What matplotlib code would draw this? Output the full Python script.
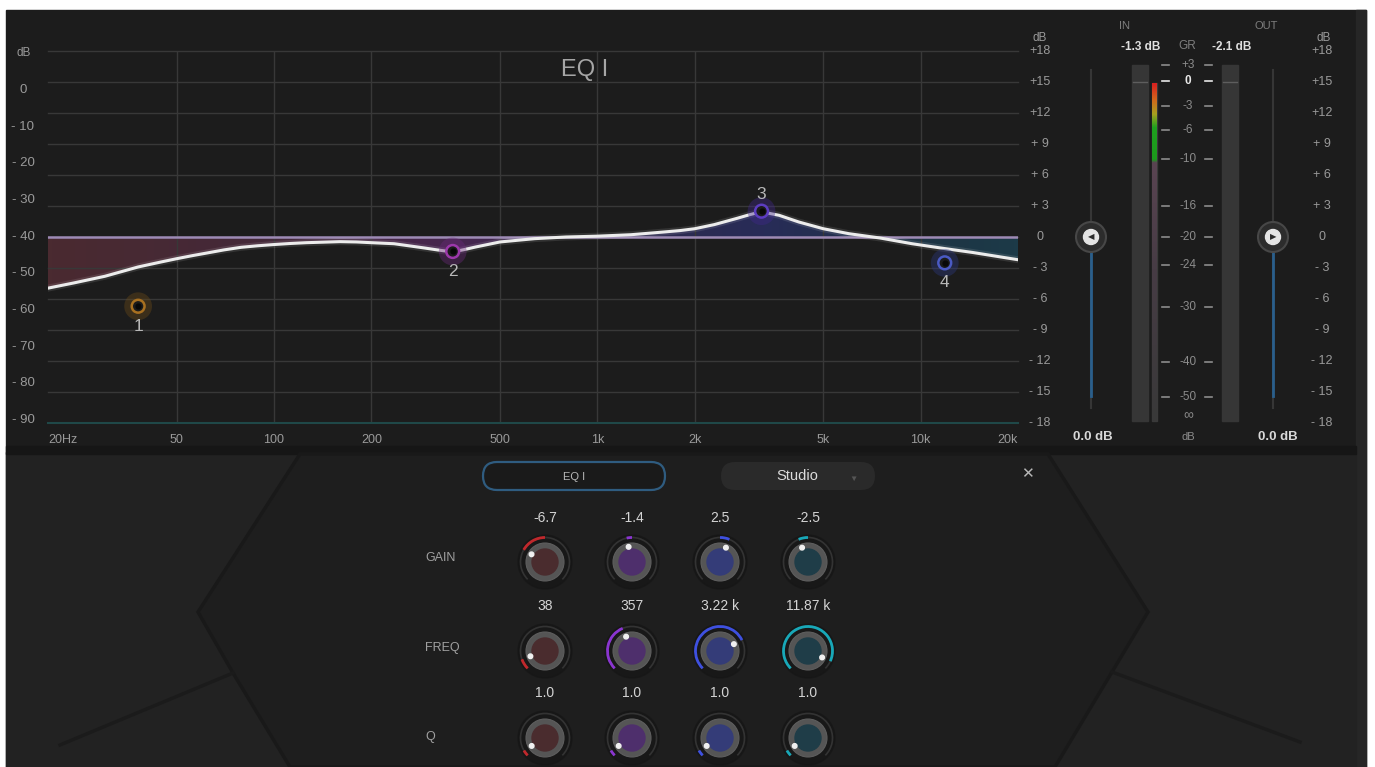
import numpy as np
import matplotlib.pyplot as plt
import matplotlib.transforms as mtransforms
from matplotlib.patches import Circle, Arc, FancyBboxPatch, Polygon, Rectangle
from matplotlib.colors import LinearSegmentedColormap

plt.rcParams['font.family'] = ['Liberation Sans', 'DejaVu Sans']

# EQ response (Hz, dB)
curve_freq = [20, 24, 30, 38, 45, 50, 56, 62, 70, 79, 89, 100, 112, 126, 142, 160, 180,
              200, 235, 290, 320, 357, 390, 420, 500, 640, 800, 1000, 1270, 1600, 1800,
              2000, 2300, 2700, 2950, 3220, 3450, 3650, 4200, 5000, 6000, 7500, 9400,
              11870, 14500, 20000]
curve_db = [-4.95, -4.45, -3.8, -2.9, -2.4, -2.1, -1.8, -1.55, -1.25, -1.0, -0.85, -0.73,
            -0.63, -0.55, -0.5, -0.45, -0.48, -0.55, -0.65, -1.05, -1.25, -1.45, -1.2,
            -0.97, -0.48, -0.16, 0.0, 0.08, 0.22, 0.48, 0.62, 0.8, 1.2, 1.8, 2.15, 2.45,
            2.25, 2.1, 1.45, 0.8, 0.32, -0.1, -0.65, -1.12, -1.5, -2.2]

# bands
band_freq = [38, 357, 3220, 11870]
band_gain = [-6.7, -1.4, 2.5, -2.5]
band_q = [1.0, 1.0, 1.0, 1.0]

# axes
x_ticks = [20, 50, 100, 200, 500, 1000, 2000, 5000, 10000, 20000]
x_labels = ['20Hz', '50', '100', '200', '500', '1k', '2k', '5k', '10k', '20k']
gain_ticks = [18, 15, 12, 9, 6, 3, 0, -3, -6, -9, -12, -15, -18]
gain_labels = ['+18', '+15', '+12', '+ 9', '+ 6', '+ 3', '0', '- 3', '- 6', '- 9', '- 12', '- 15', '- 18']
ana_ticks = [0, -10, -20, -30, -40, -50, -60, -70, -80, -90]
ana_labels = ['0', '- 10', '- 20', '- 30', '- 40', '- 50', '- 60', '- 70', '- 80', '- 90']
gr_labels = ['+3', '0', '-3', '-6', '-10', '-16', '-20', '-24', '-30', '-40', '-50']

# meters
in_peak = -1.3
out_peak = -2.1
in_gain = 0.0
out_gain = 0.0

# colours per band
ring_cols = ['#a87020', '#9c38aa', '#5c3cc0', '#4a5ac4']
glow_cols = ['#6a4a18', '#6a2a7a', '#40288a', '#2c3880']
arc_cols = ['#c0282c', '#8a35d0', '#3e50e0', '#18a8b8']
core_cols = ['#4a2c2e', '#4e2f6c', '#343c78', '#1f3d48']

W, H = 1375, 767
fig = plt.figure(figsize=(13.75, 7.67), dpi=100, facecolor='white')
ui = fig.add_axes([0, 0, 1, 1])
ui.axis('off')
ui.set_autoscale_on(False)
ui.set_xlim(0, W)
ui.set_ylim(H, 0)

# panels
ui.add_patch(Rectangle((6, 10), 1360, 757, color='#1c1c1c', zorder=0))
ui.add_patch(Rectangle((1356, 10), 10, 757, color='#262626', zorder=0))
ui.add_patch(Rectangle((6, 452), 1350, 315, color='#222222', zorder=0))
ui.add_patch(Rectangle((6, 446), 1350, 8, color='#161616', zorder=0))
hexa = [(300, 454), (1048, 454), (1148, 612), (1112, 672), (1055, 767),
        (290, 767), (233, 673), (198, 612)]
ui.add_patch(Polygon(hexa, closed=True, facecolor='#1e1e1e', edgecolor='#191919', lw=2.5, zorder=0.5))
ui.plot([233, 60], [673, 745], color='#1b1b1b', lw=2.5, zorder=0.5)
ui.plot([1112, 1300], [672, 742], color='#1b1b1b', lw=2.5, zorder=0.5)

# EQ graph
def box(x0, y0, x1, y1):
    return [x0 / W, 1 - y1 / H, (x1 - x0) / W, (y1 - y0) / H]

eq = fig.add_axes(box(48, 51, 1018, 423))
eq.patch.set_alpha(0)
eq.set_xscale('log')
eq.set_xlim(20, 20000)
eq.set_ylim(-18, 18)
eq.set_xticks([])
eq.set_yticks([])
eq.minorticks_off()
for s in eq.spines.values():
    s.set_visible(False)

for f in x_ticks[1:-1]:
    eq.axvline(f, color='#383838', lw=1, zorder=1)
for d in gain_ticks[:-1]:
    eq.axhline(d, color='#383838', lw=1, zorder=1, clip_on=False)
eq.axhline(-18, color='#1f4848', lw=1.5, zorder=1, clip_on=False)

# gradient fill between curve and 0 dB
poly = eq.fill_between(curve_freq, curve_db, 0, color='none')
fill_cmap = LinearSegmentedColormap.from_list('fill', [
    (0.0, '#4a2a30'), (0.25, '#43283a'), (0.42, '#47264f'), (0.58, '#2f2a4c'),
    (0.74, '#282c58'), (0.9, '#1e3444'), (1.0, '#1c3a48')])
im = ui.imshow(np.linspace(0, 1, 256).reshape(1, -1), extent=(48, 1018, 423, 51),
               cmap=fill_cmap, aspect='auto', zorder=0.8)
im.set_clip_path(poly.get_paths()[0], eq.transData)

eq.axhline(0, color='#9d8ab5', lw=1.8, zorder=3)
eq.plot(curve_freq, curve_db, color='#ffffff', lw=5, alpha=0.1, zorder=4)
eq.plot(curve_freq, curve_db, color='#ececec', lw=2.2, zorder=5,
        solid_capstyle='round', solid_joinstyle='round')

eq.scatter(band_freq, band_gain, s=400, c=glow_cols, alpha=0.4, linewidths=0, zorder=6)
eq.scatter(band_freq, band_gain, s=85, facecolors='#1b1b1b', edgecolors=ring_cols, linewidths=1.8, zorder=7)
eq.scatter(band_freq, band_gain, s=12, c='#080808', zorder=8)
for i, (f, g) in enumerate(zip(band_freq, band_gain)):
    dy = 12 if g > 0 else -14.5
    eq.annotate(str(i + 1), (f, g), xytext=(0, dy), textcoords='offset points',
                ha='center', va='center', color='#b8b8b8', fontsize=12.5, zorder=9)

ui.text(585, 70, 'EQ I', fontsize=17, color='#a6a6a6', ha='center', va='center')

# axis labels
bl_x = mtransforms.blended_transform_factory(eq.transData, ui.transData)
for f, lab in zip(x_ticks, x_labels):
    ha = 'left' if f == 20 else ('right' if f == 20000 else 'center')
    ui.text(f, 440, lab, transform=bl_x, ha=ha, va='center', fontsize=9, color='#9a9a9a')

bl_y = mtransforms.blended_transform_factory(ui.transData, eq.transData)
for d, lab in zip(gain_ticks, gain_labels):
    ui.text(1040, d, lab, transform=bl_y, ha='center', va='center', fontsize=9, color='#9a9a9a')
    ui.text(1322, d, lab, transform=bl_y, ha='center', va='center', fontsize=9, color='#9a9a9a')
ui.text(1040, 38, 'dB', ha='center', va='center', fontsize=8.5, color='#9a9a9a')
ui.text(1324, 38, 'dB', ha='center', va='center', fontsize=8.5, color='#9a9a9a')

ana = fig.add_axes(box(48, 51, 1018, 423))
ana.axis('off')
ana.set_ylim(-90.8, 10.6)
bl_a = mtransforms.blended_transform_factory(ui.transData, ana.transData)
for d, lab in zip(ana_ticks, ana_labels):
    ui.text(23, d, lab, transform=bl_a, ha='center', va='center', fontsize=9.5, color='#9a9a9a')
ui.text(24, 53, 'dB', ha='center', va='center', fontsize=8.5, color='#9a9a9a')

# meter section
ui.text(1125, 26, 'IN', ha='center', va='center', fontsize=8, color='#7e7e7e')
ui.text(1266, 26, 'OUT', ha='center', va='center', fontsize=8, color='#7e7e7e')
ui.text(1141, 47, f'{in_peak:.1f} dB', ha='center', va='center', fontsize=8.5,
        color='#e0e0e0', fontweight='bold')
ui.text(1187, 46, 'GR', ha='center', va='center', fontsize=8.5, color='#7e7e7e')
ui.text(1232, 47, f'{out_peak:.1f} dB', ha='center', va='center', fontsize=8.5,
        color='#e0e0e0', fontweight='bold')
ui.text(1093, 437, f'{in_gain:.1f} dB', ha='center', va='center', fontsize=9.5,
        color='#d8d8d8', fontweight='bold')
ui.text(1278, 437, f'{out_gain:.1f} dB', ha='center', va='center', fontsize=9.5,
        color='#d8d8d8', fontweight='bold')

for x0 in (1132, 1222):
    ui.add_patch(Rectangle((x0, 65), 16, 356, color='#363636', zorder=1))
    ui.plot([x0 + 1, x0 + 15], [82, 82], color='#5e5e5e', lw=1, zorder=2)
ui.add_patch(Rectangle((1152, 83), 5, 338, color='#3a3a3a', zorder=1))
gr_cmap = LinearSegmentedColormap.from_list('gr', [
    (0.0, '#d82020'), (0.05, '#d06a1c'), (0.09, '#a8a020'), (0.13, '#1fa01f'),
    (0.225, '#1c9a1c'), (0.235, '#5a4452'), (0.55, '#473c45'), (1.0, '#393939')])
ui.imshow(np.linspace(0, 1, 256).reshape(-1, 1), extent=(1152, 1157, 421, 83),
          cmap=gr_cmap, aspect='auto', zorder=2)

gr_y = [65, 81, 106, 130, 159, 206, 237, 265, 307, 362, 397]
for lab, y in zip(gr_labels, gr_y):
    col = '#e8e8e8' if lab == '0' else '#8c8c8c'
    ui.text(1188, y, lab, ha='center', va='center', fontsize=8.5, color=col,
            fontweight='bold' if lab == '0' else 'normal')
    ui.plot([1162, 1169], [y, y], color=col, lw=1.2)
    ui.plot([1205, 1212], [y, y], color=col, lw=1.2)
ui.text(1188, 415, '∞', ha='center', va='center', fontsize=10, color='#8c8c8c')
ui.text(1188, 437, 'dB', ha='center', va='center', fontsize=8, color='#8c8c8c')

# gain sliders
for sx, arrow in ((1091, '◀'), (1273, '▶')):
    ui.plot([sx, sx], [70, 408], color='#363636', lw=1.5, zorder=1)
    ui.plot([sx, sx], [250, 396], color='#2a5f8c', lw=2, zorder=2)
    ui.add_patch(Circle((sx, 237), 15, facecolor='#2c2c2c', edgecolor='#474747', lw=1.5, zorder=3))
    ui.add_patch(Circle((sx, 237), 7.5, color='#e4e4e4', zorder=4))
    ui.text(sx, 237.5, arrow, ha='center', va='center', fontsize=6, color='#2a2a2a', zorder=5)

# top controls
ui.add_patch(FancyBboxPatch((483, 462), 182, 28, boxstyle='round,pad=0,rounding_size=14',
                            facecolor='#1a1a1a', edgecolor='#2f5c80', lw=1.6, zorder=2))
ui.text(574, 477, 'EQ I', ha='center', va='center', fontsize=8, color='#b8b8b8', zorder=3)
ui.add_patch(FancyBboxPatch((721, 462), 154, 28, boxstyle='round,pad=0,rounding_size=14',
                            facecolor='#2a2a2a', edgecolor='none', zorder=2))
ui.text(797, 476, 'Studio', ha='center', va='center', fontsize=10.5, color='#dcdcdc', zorder=3)
ui.text(853, 479, '▼', ha='center', va='center', fontsize=6, color='#555555', zorder=3)
ui.text(1027, 474, '✕', ha='center', va='center', fontsize=11, color='#b8b8b8',
        fontweight='bold', family='DejaVu Sans')

# knobs
def gain_angle(g):
    return 90 - g / 15 * 135

def freq_angle(f):
    return 225 - 270 * np.log10(f / 20) / 3

def q_angle(q):
    return 225 - 270 * (q - 0.5) / 9.5

def knob(cx, cy, arc_col, core_col, a_dot, a_lo, a_hi):
    ui.add_patch(Circle((cx, cy), 27, color='#161616', alpha=0.7, zorder=2))
    ui.add_patch(Arc((cx, cy), 49, 49, theta1=-225, theta2=45, color='#333333', lw=1.2, zorder=3))
    ui.add_patch(Arc((cx, cy), 49, 49, theta1=-a_hi, theta2=-a_lo, color=arc_col, lw=2, zorder=4))
    ui.add_patch(Circle((cx, cy), 19, facecolor='#555555', edgecolor='#5e5e5e', lw=0.8, zorder=5))
    ui.add_patch(Circle((cx, cy), 13, color=core_col, zorder=6))
    r = np.deg2rad(a_dot)
    ui.add_patch(Circle((cx + 15.5 * np.cos(r), cy - 15.5 * np.sin(r)), 2.3,
                        color='#f0f0f0', zorder=7))

col_x = [545, 632, 720, 808]
rows = [('GAIN', 558, 518, 562), ('FREQ', 648, 606, 651), ('Q', 737, 693, 738)]
for name, ly, vy, ky in rows:
    ui.text(425, ly, name, ha='left', va='center', fontsize=9, color='#a0a0a0')

for i, cx in enumerate(col_x):
    g, f, q = band_gain[i], band_freq[i], band_q[i]
    ftxt = f'{f / 1000:.2f} k' if f >= 1000 else f'{f}'
    for (name, ly, vy, ky), txt in zip(rows, [f'{g:.1f}', ftxt, f'{q:.1f}']):
        ui.text(cx, vy, txt, ha='center', va='center', fontsize=10, color='#d4d4d4')
    ag = gain_angle(g)
    knob(cx, 562, arc_cols[i], core_cols[i], ag, min(ag, 90), max(ag, 90))
    af = freq_angle(f)
    knob(cx, 651, arc_cols[i], core_cols[i], af, af, 225)
    aq = q_angle(q)
    knob(cx, 738, arc_cols[i], core_cols[i], aq, aq, 225)

ui.set_xlim(0, W)
ui.set_ylim(H, 0)
fig.savefig('out.png', dpi=100, facecolor=fig.get_facecolor())
